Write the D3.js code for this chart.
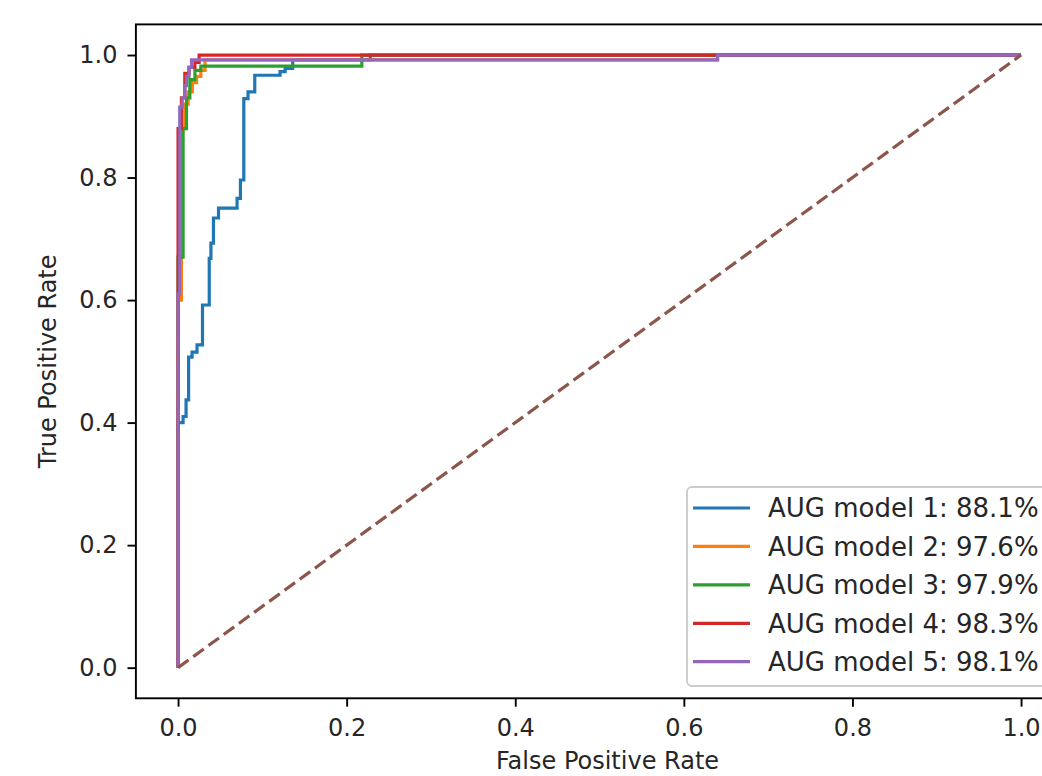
<!DOCTYPE html>
<html>
<head>
<meta charset="utf-8">
<script src="https://cdn.jsdelivr.net/npm/d3@7"></script>
<style>
  html, body { margin: 0; padding: 0; background: #fff; }
  svg { display: block; font-family: "DejaVu Sans", sans-serif; }
</style>
</head>
<body>
<svg id="chart" width="1042" height="776"></svg>
<script>
// ---------- data ----------
const seriesNames = ["AUG model 1: 88.1%", "AUG model 2: 97.6%", "AUG model 3: 97.9%", "AUG model 4: 98.3%", "AUG model 5: 98.1%"];
const seriesColors = ["#1f77b4", "#ff7f0e", "#2ca02c", "#d62728", "#9467bd"];

const fpr1 = [0, 0, 0.006, 0.006, 0.0095, 0.0095, 0.0125, 0.0125, 0.0166, 0.0166, 0.0225, 0.0225, 0.029, 0.029, 0.037, 0.037, 0.039, 0.039, 0.042, 0.042, 0.048, 0.048, 0.070, 0.070, 0.074, 0.074, 0.078, 0.078, 0.083, 0.083, 0.091, 0.091, 0.121, 0.121, 0.127, 0.127, 0.136, 0.136, 0.228, 0.228, 1.0];
const tpr1 = [0, 0.40, 0.40, 0.41, 0.41, 0.437, 0.437, 0.507, 0.507, 0.515, 0.515, 0.527, 0.527, 0.592, 0.592, 0.668, 0.668, 0.693, 0.693, 0.734, 0.734, 0.750, 0.750, 0.766, 0.766, 0.796, 0.796, 0.929, 0.929, 0.940, 0.940, 0.967, 0.967, 0.973, 0.973, 0.978, 0.978, 0.992, 0.992, 1.0, 1.0];

const fpr2 = [0, 0, 0.004, 0.004, 0.008, 0.008, 0.012, 0.012, 0.017, 0.017, 0.022, 0.022, 0.027, 0.027, 0.032, 0.032, 0.64, 0.64, 1.0];
const tpr2 = [0, 0.60, 0.60, 0.88, 0.88, 0.92, 0.92, 0.94, 0.94, 0.955, 0.955, 0.965, 0.965, 0.975, 0.975, 0.992, 0.992, 1.0, 1.0];

const fpr3 = [0, 0, 0.006, 0.006, 0.010, 0.010, 0.014, 0.014, 0.020, 0.020, 0.027, 0.027, 0.218, 0.218, 1.0];
const tpr3 = [0, 0.67, 0.67, 0.88, 0.88, 0.93, 0.93, 0.96, 0.96, 0.975, 0.975, 0.982, 0.982, 1.0, 1.0];

const fpr4 = [0, 0, 0.004, 0.004, 0.008, 0.008, 0.013, 0.013, 0.020, 0.020, 0.025, 0.025, 1.0];
const tpr4 = [0, 0.88, 0.88, 0.93, 0.93, 0.97, 0.97, 0.98, 0.98, 0.988, 0.988, 1.0, 1.0];

const fpr5 = [0, 0, 0.002, 0.002, 0.005, 0.005, 0.008, 0.008, 0.010, 0.010, 0.013, 0.013, 0.016, 0.016, 0.64, 0.64, 1.0];
const tpr5 = [0, 0.61, 0.61, 0.915, 0.915, 0.93, 0.93, 0.95, 0.95, 0.965, 0.965, 0.98, 0.98, 0.992, 0.992, 1.0, 1.0];

const chanceX = [0, 1];
const chanceY = [0, 1];

const xTicks = [0, 0.2, 0.4, 0.6, 0.8, 1.0];
const yTicks = [0, 0.2, 0.4, 0.6, 0.8, 1.0];
const xLabel = "False Positive Rate";
const yLabel = "True Positive Rate";

const fprs = [fpr1, fpr2, fpr3, fpr4, fpr5];
const tprs = [tpr1, tpr2, tpr3, tpr4, tpr5];

// ---------- layout ----------
const svg = d3.select("#chart");
svg.append("rect").attr("width", 1042).attr("height", 776).attr("fill", "#fff");

const x = d3.scaleLinear().domain([-0.05, 1.05]).range([135.9, 1063.2]);
const y = d3.scaleLinear().domain([-0.05, 1.05]).range([698.3, 24.4]);

const FS = 24;
const LFS = 26;
const plot = svg.append("g");

const line = d3.line().x(d => x(d[0])).y(d => y(d[1]));

fprs.forEach((f, i) => {
  const pts = f.map((v, j) => [v, tprs[i][j]]);
  plot.append("path")
    .attr("d", line(pts))
    .attr("fill", "none")
    .attr("stroke", seriesColors[i])
    .attr("stroke-width", 3.2)
    .attr("stroke-linejoin", "miter");
});

plot.append("path")
  .attr("d", line(chanceX.map((v, j) => [v, chanceY[j]])))
  .attr("fill", "none")
  .attr("stroke", "#8c564b")
  .attr("stroke-width", 3.2)
  .attr("stroke-dasharray", "13,5.8");

// spines
const [x0, x1] = x.range();
const [y0, y1] = y.range();
svg.append("rect")
  .attr("x", x0).attr("y", y1)
  .attr("width", x1 - x0).attr("height", y0 - y1)
  .attr("fill", "none").attr("stroke", "#000").attr("stroke-width", 1.9);

// axes
const fmt = d3.format(".1f");
const xAxis = svg.append("g")
  .attr("transform", `translate(0,${y0})`)
  .call(d3.axisBottom(x).tickValues(xTicks).tickFormat(fmt).tickSize(8.4).tickPadding(12).tickSizeOuter(0));
const yAxis = svg.append("g")
  .attr("transform", `translate(${x0},0)`)
  .call(d3.axisLeft(y).tickValues(yTicks).tickFormat(fmt).tickSize(8.4).tickPadding(10).tickSizeOuter(0));
[xAxis, yAxis].forEach(a => {
  a.select(".domain").remove();
  a.selectAll(".tick line").attr("stroke", "#000").attr("stroke-width", 1.9);
  a.selectAll(".tick text").attr("fill", "#262626").style("font-size", FS + "px").style("font-family", "DejaVu Sans");
});

// axis labels
svg.append("text")
  .attr("x", (x0 + x1) / 2 + 8).attr("y", 769)
  .attr("text-anchor", "middle")
  .attr("fill", "#262626")
  .style("font-size", FS + "px")
  .text(xLabel);
svg.append("text")
  .attr("transform", `translate(56,${(y0 + y1) / 2}) rotate(-90)`)
  .attr("text-anchor", "middle")
  .attr("fill", "#262626")
  .style("font-size", FS + "px")
  .text(yLabel);

// legend
const legend = svg.append("g");
const lgLeft = 687, lgTop = 487, lgRight = 1051, lgBottom = 686;
legend.append("rect")
  .attr("x", lgLeft).attr("y", lgTop)
  .attr("width", lgRight - lgLeft).attr("height", lgBottom - lgTop)
  .attr("rx", 5).attr("ry", 5)
  .attr("fill", "#fff").attr("fill-opacity", 0.8)
  .attr("stroke", "#cccccc").attr("stroke-width", 1.9);

const rowY = d3.scaleLinear().domain([0, seriesNames.length - 1]).range([508, 661.7]);
seriesNames.forEach((name, i) => {
  const cy = rowY(i);
  legend.append("line")
    .attr("x1", 693).attr("x2", 750)
    .attr("y1", cy).attr("y2", cy)
    .attr("stroke", seriesColors[i]).attr("stroke-width", 3.2);
  legend.append("text")
    .attr("x", 768).attr("y", cy)
    .attr("dy", "0.36em")
    .attr("fill", "#262626")
    .style("font-size", LFS + "px")
    .text(name);
});
</script>
</body>
</html>
